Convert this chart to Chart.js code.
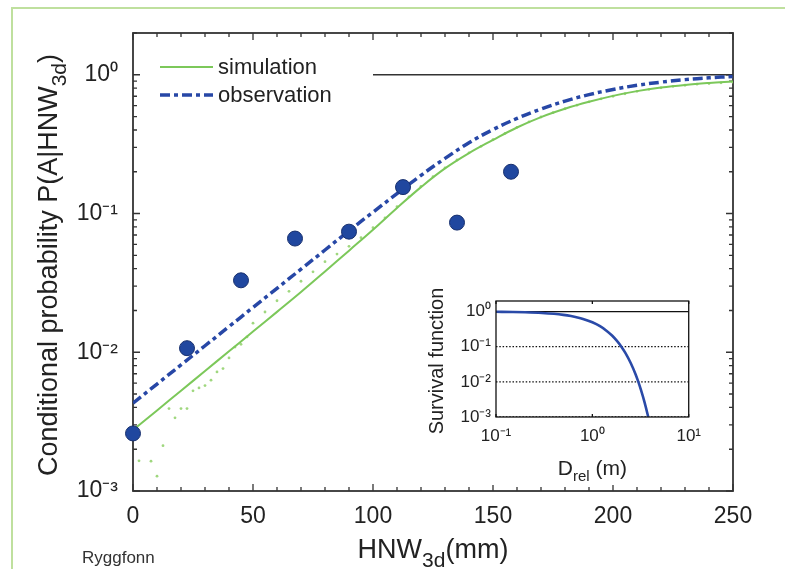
<!DOCTYPE html>
<html>
<head>
<meta charset="utf-8">
<script src="https://cdn.jsdelivr.net/npm/chart.js@4.4.0/dist/chart.umd.min.js"></script>
<style>
html,body{margin:0;padding:0;background:#fff;}
body{width:785px;height:569px;position:relative;overflow:hidden;font-family:"Liberation Sans",Arial,sans-serif;}
#frame{position:absolute;left:11px;top:7px;width:800px;height:600px;border-left:2px solid #bfe09e;border-top:2px solid #bfe09e;}
#main{position:absolute;left:0;top:0;}
#inset{position:absolute;left:420px;top:285px;}
</style>
</head>
<body>
<div id="frame"></div>
<canvas id="main" width="785" height="569"></canvas>
<canvas id="inset" width="290" height="200"></canvas>
<script>
// ---------- data ----------
const curveX = [0,10,20,30,40,50,60,70,80,90,100,110,120,130,140,150,160,170,180,190,200,210,220,230,240,250];
const observationY = [0.0043,0.0059,0.00811,0.01114,0.01531,0.02104,0.02891,0.03972,0.05458,0.0750,0.1023,0.139,0.1884,0.2495,0.3236,0.4027,0.4842,0.5662,0.6457,0.7194,0.7834,0.8395,0.8851,0.9226,0.9506,0.9727];
const simulationY = [0.00275,0.00381,0.00528,0.00733,0.01016,0.01409,0.01954,0.02716,0.0382,0.0540,0.0764,0.1096,0.1549,0.2113,0.2723,0.3388,0.4169,0.4955,0.5689,0.6383,0.7047,0.7621,0.8091,0.8453,0.8730,0.8954];

const simDotX = [2.5,7.5,10,12.5,15,17.5,20,22.5,25,27.5,30,32.5,35,37.5,40,42.5,45,47.5,
  50,55,60,65,70,75,80,85,90,95,100,105,110,115,120,125,130,135,140,145,150,155,160,165,170,175,180,185,190,195,200,205,210,215,220,225,230,235,240,245,250];
const simDotY = [0.00165,0.00164,0.00128,0.00212,0.00393,0.00337,0.00393,0.00393,0.00527,0.00553,0.00575,0.00629,0.00722,0.00763,0.0091,0.0109,0.0114,0.0129,
  0.0162,0.0195,0.0235,0.0275,0.0325,0.038,0.045,0.051,0.058,0.067,0.079,0.093,0.112,0.132,0.157,0.184,0.213,0.243,0.274,0.305,0.34,0.378,0.418,0.457,0.496,0.533,0.569,0.604,0.638,0.671,0.70,0.73,0.76,0.785,0.805,0.825,0.84,0.855,0.865,0.875,0.885];

const obsPointX = [0,22.5,45,67.5,90,112.5,135,157.5];
const obsPointY = [0.0026,0.0107,0.033,0.066,0.074,0.155,0.086,0.20];

const refLineX = [100,250];
const refLineY = [1,1];

const xTickValues = [0,50,100,150,200,250];
const yTickValues = [0.001,0.01,0.1,1];
const yTickLabels = ['10\u207B\u00B3','10\u207B\u00B2','10\u207B\u00B9','10\u2070'];

// inset
const survivalX = [0.1,0.15,0.2,0.3,0.4,0.5,0.6,0.7,0.8,1.0,1.2,1.4,1.6,1.8,2.0,2.2,2.5,2.8,3.0,3.2,3.5,3.8];
const survivalY = [0.986,0.973,0.956,0.914,0.863,0.806,0.745,0.682,0.618,0.495,0.383,0.286,0.208,0.146,0.100,0.0665,0.0343,0.0167,0.0100,0.00582,0.00249,0.00101];
const insetLevels = [1,0.1,0.01,0.001];
const insetLevelX = [0.1,10];
const insetXTicks = [0.1,1,10];
const insetXLabels = ['10\u207B\u00B9','10\u2070','10\u00B9'];

// ---------- styles ----------
const FONT = '"Liberation Sans", Arial, Helvetica, sans-serif';
const BLUE = '#2747a6';
const GREEN = '#7cc85a';
const TXT = '#222';

function labelFor(v, vals, labs){
  for (let i=0;i<vals.length;i++){ if (Math.abs(Math.log10(v)-Math.log10(vals[i]))<1e-6) return labs[i]; }
  return '';
}
function drawRich(ctx, segs, x, y, rotate){
  ctx.save();
  ctx.translate(x,y);
  if (rotate) ctx.rotate(-Math.PI/2);
  let total=0;
  segs.forEach(s=>{ ctx.font = s.size+'px '+FONT; s.w = ctx.measureText(s.t).width; total+=s.w; });
  let cx = -total/2;
  ctx.textBaseline='alphabetic'; ctx.textAlign='left';
  segs.forEach(s=>{ ctx.font = s.size+'px '+FONT; ctx.fillStyle = s.color||TXT; ctx.fillText(s.t, cx, s.dy||0); cx+=s.w; });
  ctx.restore();
}

// ---------- main chart ----------
const mainBox = {
  id:'mainBox',
  beforeDatasetsDraw(chart){
    const {ctx, chartArea:a, scales:{x,y}} = chart;
    ctx.save();
    ctx.strokeStyle='#333'; ctx.lineWidth=1.3;
    ctx.beginPath();
    for (let v=0; v<=250; v+=10){
      const px = x.getPixelForValue(v);
      const L = (v%50===0)?7:4;
      ctx.moveTo(px,a.bottom); ctx.lineTo(px,a.bottom-L);
      ctx.moveTo(px,a.top); ctx.lineTo(px,a.top+L);
    }
    for (let d=-3; d<=0; d++){
      for (let m=1; m<=9; m++){
        const v = m*Math.pow(10,d);
        if (v>2) break;
        const py = y.getPixelForValue(v);
        const L = (m===1)?7:4;
        ctx.moveTo(a.left,py); ctx.lineTo(a.left+L,py);
        ctx.moveTo(a.right,py); ctx.lineTo(a.right-L,py);
      }
    }
    ctx.stroke();
    ctx.lineWidth=1.8;
    ctx.strokeRect(a.left,a.top,a.right-a.left,a.bottom-a.top);
    ctx.restore();
  },
  afterDraw(chart){
    const ctx = chart.ctx;
    const a = chart.chartArea;
    drawRich(ctx,[{t:'Conditional probability P(A|HNW',size:27},{t:'3d',size:21,dy:9},{t:')',size:27}], 57, (a.top+a.bottom)/2+3, true);
    drawRich(ctx,[{t:'HNW',size:27},{t:'3d',size:21,dy:9},{t:'(mm)',size:27}], (a.left+a.right)/2, 558, false);
    ctx.save();
    ctx.font='17px '+FONT; ctx.fillStyle='#333'; ctx.textBaseline='alphabetic'; ctx.textAlign='left';
    ctx.fillText('Ryggfonn', 82, 563);
    ctx.restore();
    const ds = chart.data.datasets;
    const items = [ds[1], ds[0]];
    const ys = [67, 95];
    ctx.save();
    items.forEach((d,i)=>{
      ctx.beginPath();
      ctx.strokeStyle = d.borderColor; ctx.lineWidth = d.borderWidth;
      ctx.setLineDash(d.borderDash||[]);
      ctx.moveTo(160, ys[i]); ctx.lineTo(213, ys[i]); ctx.stroke();
      ctx.setLineDash([]);
      ctx.font='22px '+FONT; ctx.fillStyle=TXT; ctx.textBaseline='middle'; ctx.textAlign='left';
      ctx.fillText(d.label, 218, ys[i]+1);
    });
    ctx.restore();
  }
};

new Chart(document.getElementById('main'), {
  type:'scatter',
  data:{
    datasets:[
      {label:'observation', type:'line', data:curveX.map((v,i)=>({x:v,y:observationY[i]})),
       borderColor:BLUE, borderWidth:3.5, borderDash:[10,4,4,4], pointRadius:0, fill:false, tension:0.4, order:2},
      {label:'simulation', type:'line', data:curveX.map((v,i)=>({x:v,y:simulationY[i]})),
       borderColor:GREEN, borderWidth:2, pointRadius:0, fill:false, tension:0.4, order:3},
      {label:'simulation samples', data:simDotX.map((v,i)=>({x:v,y:simDotY[i]})),
       backgroundColor:'#9fd77e', borderColor:'#9fd77e', pointRadius:1.4, borderWidth:0, showLine:false, order:4},
      {label:'reference', type:'line', data:refLineX.map((v,i)=>({x:v,y:refLineY[i]})),
       borderColor:'#333', borderWidth:1.6, pointRadius:0, fill:false, order:5},
      {label:'observed', data:obsPointX.map((v,i)=>({x:v,y:obsPointY[i]})),
       backgroundColor:'#20479f', borderColor:'#18306e', borderWidth:1, pointRadius:7.5, showLine:false, clip:false, order:1}
    ]
  },
  options:{
    responsive:false, animation:false,
    layout:{padding:{top:33,right:52,left:0,bottom:0}},
    plugins:{legend:{display:false}, tooltip:{enabled:false}},
    scales:{
      x:{type:'linear', min:0, max:250, position:'bottom',
         grid:{display:false, drawTicks:false}, border:{display:false},
         afterBuildTicks:(s)=>{ s.ticks = xTickValues.map(v=>({value:v})); },
         afterFit:(s)=>{ s.height = 78; },
         ticks:{font:{family:FONT,size:23}, color:TXT, padding:12, maxRotation:0, autoSkip:false,
                callback:(v)=>String(v)}},
      y:{type:'logarithmic', min:0.001, max:2, position:'left',
         grid:{display:false, drawTicks:false}, border:{display:false},
         afterBuildTicks:(s)=>{ s.ticks = yTickValues.map(v=>({value:v})); },
         afterFit:(s)=>{ s.width = 133; },
         ticks:{font:{family:FONT,size:23}, color:TXT, padding:15, autoSkip:false,
                callback:(v)=>labelFor(v,yTickValues,yTickLabels)}}
    }
  },
  plugins:[mainBox]
});

// ---------- inset chart ----------
const insetBox = {
  id:'insetBox',
  beforeDraw(chart){
    const ctx=chart.ctx;
    ctx.save(); ctx.fillStyle='#fff'; ctx.fillRect(0,0,chart.width,chart.height); ctx.restore();
  },
  afterDatasetsDraw(chart){
    const {ctx, chartArea:a, scales:{x,y}} = chart;
    ctx.save();
    ctx.strokeStyle='#111'; ctx.lineWidth=1.3;
    ctx.strokeRect(a.left,a.top,a.right-a.left,a.bottom-a.top);
    ctx.beginPath();
    insetXTicks.forEach(v=>{ const px=x.getPixelForValue(v);
      ctx.moveTo(px,a.top); ctx.lineTo(px,a.top+3); ctx.moveTo(px,a.bottom); ctx.lineTo(px,a.bottom-3); });
    ctx.stroke();
    ctx.restore();
  },
  afterDraw(chart){
    const ctx=chart.ctx, a=chart.chartArea;
    drawRich(ctx,[{t:'Survival function',size:20}], 23, (a.top+a.bottom)/2+2, true);
    drawRich(ctx,[{t:'D',size:21},{t:'rel',size:15,dy:6},{t:' (m)',size:21}], (a.left+a.right)/2, 190, false);
  }
};

const levelSets = insetLevels.map((lv,i)=>({
  label:'level '+lv, type:'line', data:insetLevelX.map(v=>({x:v,y:lv})),
  borderColor:'#111', borderWidth:1.3, borderDash:(i===0)?[]:[1.5,1.8], pointRadius:0, fill:false, order:2
}));

new Chart(document.getElementById('inset'), {
  type:'scatter',
  data:{
    datasets:[
      {label:'survival', type:'line', data:survivalX.map((v,i)=>({x:v,y:survivalY[i]})),
       borderColor:'#2a4aa8', borderWidth:2.6, pointRadius:0, fill:false, cubicInterpolationMode:'monotone', order:1},
      ...levelSets
    ]
  },
  options:{
    responsive:false, animation:false,
    layout:{padding:{top:16,right:18,left:0,bottom:0}},
    plugins:{legend:{display:false}, tooltip:{enabled:false}},
    scales:{
      x:{type:'logarithmic', min:0.1, max:10, position:'bottom',
         grid:{display:false, drawTicks:false}, border:{display:false},
         afterBuildTicks:(s)=>{ s.ticks = insetXTicks.map(v=>({value:v})); },
         afterFit:(s)=>{ s.height = 68; },
         ticks:{font:{family:FONT,size:17}, color:TXT, padding:9, maxRotation:0, autoSkip:false,
                callback:(v)=>labelFor(v,insetXTicks,insetXLabels)}},
      y:{type:'logarithmic', min:0.001, max:2, position:'left',
         grid:{display:false, drawTicks:false}, border:{display:false},
         afterBuildTicks:(s)=>{ s.ticks = yTickValues.map(v=>({value:v})); },
         afterFit:(s)=>{ s.width = 76; },
         ticks:{font:{family:FONT,size:17}, color:TXT, padding:5, autoSkip:false,
                callback:(v)=>labelFor(v,yTickValues,yTickLabels)}}
    }
  },
  plugins:[insetBox]
});
</script>
</body>
</html>
